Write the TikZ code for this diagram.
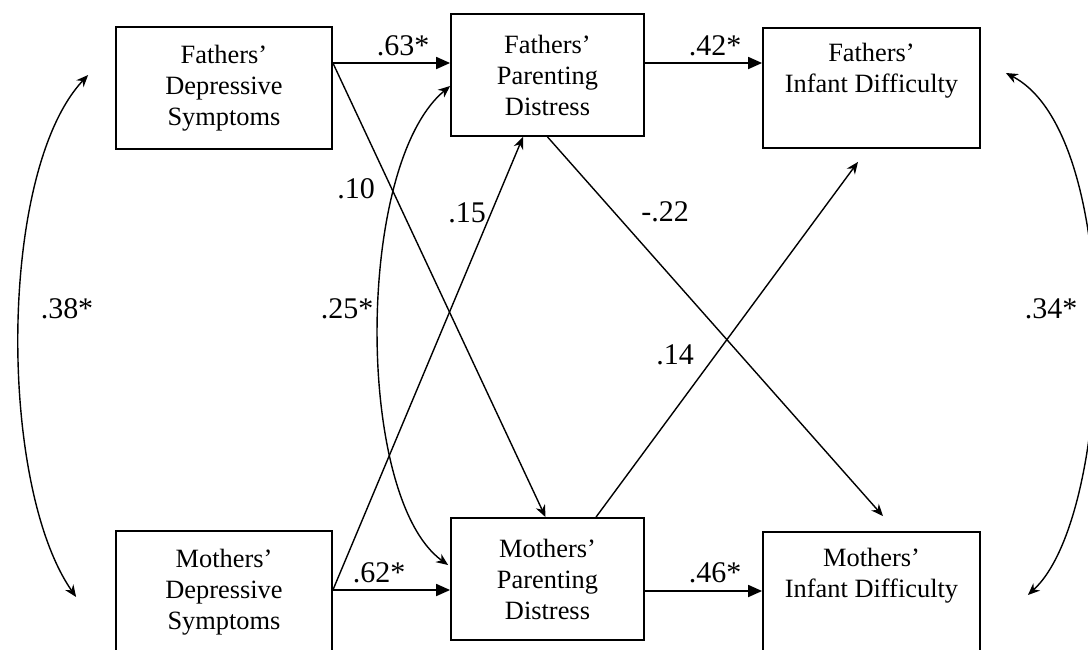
\documentclass[tikz,border=0pt]{standalone}
\usepackage{fontspec}
\setmainfont{Liberation Serif}
\usetikzlibrary{arrows.meta}
\tikzset{>={Triangle[length=7pt,width=6pt]}}
\tikzset{box/.style={draw, line width=0.9pt, inner sep=0pt, align=center, font=\fontsize{13.2}{15.5}\selectfont},
  coef/.style={anchor=base, inner sep=0pt, font=\fontsize{15}{18}\selectfont},
  straightpath/.style={line width=0.9pt, ->},
  diagpath/.style={line width=0.7pt, -{Stealth[length=6pt,width=5pt]}},
  covpath/.style={line width=0.7pt, {Stealth[length=6pt,width=5pt]}-{Stealth[length=6pt,width=5pt]}}}

\begin{document}
\begin{tikzpicture}[x=0.5pt, y=-0.5pt]
\clip (0,0) rectangle (1088,649);
\node[box, minimum width=108pt, minimum height=61pt] (fdep) at (224,88) {Fathers'\\ Depressive\\ Symptoms};
\node[box, minimum width=96.5pt, minimum height=61pt] (fpar) at (547.5,75) {Fathers'\\ Parenting\\ Distress};
\node[box, minimum width=108.5pt, minimum height=60pt] (finf) at (871.5,88) {Fathers'\\ Infant Difficulty\\ \strut};
\node[box, minimum width=108pt, minimum height=61pt] (mdep) at (224,592) {Mothers'\\ Depressive\\ Symptoms};
\node[box, minimum width=96.5pt, minimum height=61pt] (mpar) at (547.5,579) {Mothers'\\ Parenting\\ Distress};
\node[box, minimum width=108.5pt, minimum height=61pt] (minf) at (871.5,593) {Mothers'\\ Infant Difficulty\\ \strut};

\draw[straightpath] ([yshift=12.5pt]fdep.east) -- ([yshift=6pt]fpar.west);
\draw[straightpath] ([yshift=6pt]fpar.east) -- ([yshift=12.5pt]finf.west);
\draw[straightpath] ([yshift=1pt]mdep.east) -- ([yshift=-5.5pt]mpar.west);
\draw[straightpath] ([yshift=-6pt]mpar.east) -- ([yshift=1pt]minf.west);

\draw[diagpath] ([yshift=12.5pt]fdep.east) -- ([xshift=-1pt]mpar.north);
\draw[diagpath] ([yshift=1pt]mdep.east) -- ([xshift=-12.25pt]fpar.south);
\draw[diagpath] (fpar.south) -- ([xshift=5.75pt,yshift=7.5pt]minf.north);
\draw[diagpath] ([xshift=24.25pt]mpar.north) -- ([xshift=-6.75pt,yshift=-6.5pt]finf.south);

\draw[covpath] ([xshift=-13.5pt,yshift=6.5pt]fdep.west) .. controls (-2,171) and (-2,485) .. ([xshift=-19.5pt,yshift=-2.5pt]mdep.west);
\draw[covpath] ([yshift=-5.5pt]fpar.west) .. controls (355,165) and (355,498) .. ([xshift=-1pt,yshift=7pt]mpar.west);
\draw[covpath] ([xshift=12.5pt,yshift=7.5pt]finf.east) .. controls (1125,135) and (1115,515) .. ([xshift=23.5pt,yshift=-1pt]minf.east);

\node[coef] (c63) at (403,55) {.63*};
\node[coef] (c42) at (715,55) {.42*};
\node[coef] (c62) at (379,582) {.62*};
\node[coef] (c46) at (715,582) {.46*};
\node[coef] (c10) at (356,198) {.10};
\node[coef] (c15) at (467,222) {.15};
\node[coef] (c25) at (347,318) {.25*};
\node[coef] (c38) at (67,318) {.38*};
\node[coef] (c22) at (665,221) {-.22};
\node[coef] (c14) at (675,364) {.14};
\node[coef] (c34) at (1051,318) {.34*};
\end{tikzpicture}
\end{document}
